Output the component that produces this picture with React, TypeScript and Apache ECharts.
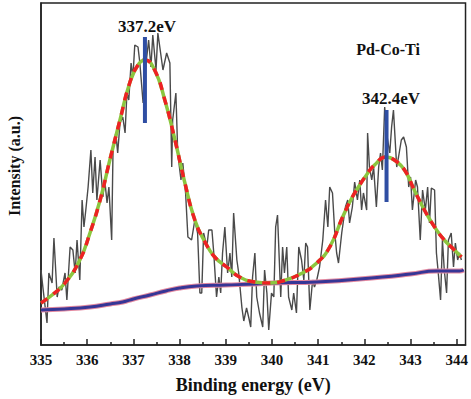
import React, { useEffect, useRef } from "react";
import * as echarts from "echarts";

// Raw XPS spectrum (binding energy eV, intensity a.u.)
const rawEnergy = [
  335.0, 335.04, 335.13, 335.17, 335.24, 335.28, 335.35, 335.39, 335.45, 335.52, 335.56, 335.63, 335.69, 335.74, 335.78, 335.84,
  335.89, 335.93, 335.97, 336.02, 336.08, 336.12, 336.17, 336.21, 336.28, 336.34, 336.38, 336.43, 336.47, 336.53, 336.56, 336.62,
  336.66, 336.71, 336.77, 336.82, 336.86, 336.9, 336.95, 336.99, 337.03, 337.1, 337.14, 337.21, 337.27, 337.33, 337.38, 337.42,
  337.49, 337.53, 337.64, 337.72, 337.79, 337.83, 337.85, 337.92, 337.96, 338.03, 338.07, 338.13, 338.18, 338.26, 338.33, 338.39,
  338.44, 338.48, 338.52, 338.59, 338.63, 338.7, 338.74, 338.8, 338.85, 338.89, 338.93, 338.98, 339.04, 339.09, 339.13, 339.17,
  339.24, 339.28, 339.35, 339.39, 339.45, 339.5, 339.54, 339.58, 339.63, 339.67, 339.73, 339.8, 339.84, 339.89, 339.93, 339.99,
  340.04, 340.08, 340.12, 340.19, 340.23, 340.27, 340.32, 340.36, 340.43, 340.47, 340.53, 340.58, 340.64, 340.69, 340.73, 340.77,
  340.82, 340.88, 340.92, 340.97, 341.03, 341.1, 341.16, 341.21, 341.25, 341.31, 341.36, 341.4, 341.44, 341.51, 341.55, 341.59,
  341.64, 341.68, 341.74, 341.79, 341.85, 341.9, 341.94, 341.98, 342.05, 342.07, 342.11, 342.16, 342.2, 342.26, 342.31, 342.35,
  342.39, 342.44, 342.48, 342.55, 342.59, 342.63, 342.7, 342.74, 342.8, 342.85, 342.91, 342.96, 343.0, 343.04, 343.11, 343.15,
  343.21, 343.26, 343.32, 343.37, 343.41, 343.45, 343.52, 343.56, 343.6, 343.65, 343.69, 343.73, 343.78, 343.82, 343.88, 343.93,
  343.97, 344.02, 344.06, 344.1,
];
const rawIntensity = [
  75, 58, 22, 72, 62, 107, 48, 58, 55, 72, 45, 98, 95, 72, 105, 65,
  145, 118, 135, 158, 195, 152, 188, 145, 185, 148, 165, 142, 158, 105, 198, 212,
  192, 222, 228, 212, 252, 245, 282, 268, 300, 298, 282, 242, 280, 305, 278, 310,
  275, 312, 275, 292, 282, 178, 225, 252, 192, 165, 182, 152, 108, 105, 125, 112,
  52, 52, 112, 98, 115, 115, 92, 48, 68, 52, 92, 118, 72, 92, 68, 132,
  85, 72, 37, 24, 37, 27, 18, 68, 92, 48, 32, 18, 75, 52, 15, 52,
  48, 118, 130, 48, 98, 72, 98, 48, 35, 52, 32, 98, 85, 65, 102, 98,
  35, 65, 58, 65, 78, 105, 145, 118, 158, 152, 112, 92, 82, 112, 125, 138,
  145, 122, 138, 163, 145, 165, 135, 152, 135, 212, 178, 165, 178, 138, 178, 192,
  175, 238, 212, 192, 218, 235, 178, 188, 205, 208, 198, 158, 168, 135, 165, 158,
  105, 155, 135, 158, 122, 157, 155, 92, 72, 45, 105, 75, 52, 105, 112, 78,
  102, 85, 92, 85,
];

// Fitted envelope
const fitEnergy = [
  335.0, 335.24, 335.52, 335.84, 336.06, 336.28, 336.49, 336.71, 336.92, 337.1, 337.25, 337.46, 337.68, 337.9, 338.11, 338.33,
  338.55, 338.76, 339.02, 339.3, 339.63, 339.95, 340.23, 340.66, 340.97, 341.25, 341.53, 341.74, 341.9, 342.0, 342.22, 342.48,
  342.65, 342.87, 343.08, 343.3, 343.52, 343.73, 343.95, 344.1,
];
const fitIntensity = [
  42, 50, 62, 85, 112, 145, 185, 225, 262, 280, 285, 275, 245, 205, 163, 125,
  103, 88, 78, 68, 63, 62, 64, 72, 82, 98, 128, 148, 160, 167, 180, 188,
  185, 175, 155, 135, 118, 105, 95, 88,
];

// Background line
const baseEnergy = [335.0, 335.5, 336.06, 336.5, 336.77, 337.0, 337.36, 337.7, 338.0, 338.37, 339.0, 339.63, 340.0, 340.97, 342.39, 343.0, 343.56, 344.06, 344.15];
const baseIntensity = [35, 36, 38, 41, 43, 46, 50, 54, 57, 59, 60, 61, 62, 63, 68, 71, 74, 74, 75];

// Peak markers
const peakEnergy = [337.25, 342.48];
const markerTop = [308, 235];
const markerBottom = [222, 143];
const peakLabels = ["337.2eV", "342.4eV"];

const xTicks = [335, 336, 337, 338, 339, 340, 341, 342, 343, 344];
const xHalfTicks = [335.5, 336.5, 337.5, 338.5, 339.5, 340.5, 341.5, 342.5, 343.5];

const FONT = "'Liberation Serif', 'Times New Roman', Tinos, 'DejaVu Serif', serif";

export default function App() {
  const ref = useRef<HTMLDivElement>(null);
  useEffect(() => {
    if (!ref.current) return;
    const chart = echarts.init(ref.current, null, { renderer: "svg" });
    const pairs = (xs: number[], ys: number[]) => xs.map((x, i) => [x, ys[i]]);
    const markerSeries = peakEnergy.map((e, i) => ({
      type: "line",
      data: [[e, markerBottom[i]], [e, markerTop[i]]],
      showSymbol: false,
      lineStyle: { color: "#2f4ea3", width: 4 },
      z: 10,
      silent: true,
    }));
    const txt = (text: string, x: number, y: number, size: number, rotation = 0) => ({
      type: "text",
      x,
      y,
      rotation,
      style: {
        text,
        fill: "#111",
        fontFamily: FONT,
        fontWeight: "bold",
        fontSize: size,
        align: "center",
        verticalAlign: "middle",
        textAlign: "center",
        textVerticalAlign: "middle",
      },
      z: 20,
    });
    chart.setOption({
      animation: false,
      textStyle: { fontFamily: FONT },
      grid: { left: 41, right: 5, top: 3, bottom: 54, show: true, borderColor: "#222", borderWidth: 1.5, backgroundColor: "transparent" },
      xAxis: [
        {
          type: "value",
          min: 335,
          max: 344.19,
          axisLine: { show: true, lineStyle: { color: "#222", width: 1.5 } },
          axisTick: { show: true, inside: true, length: 6, customValues: xTicks, lineStyle: { color: "#222", width: 1.5 } },
          axisLabel: {
            customValues: xTicks,
            formatter: (v: number) => String(Math.round(v)),
            color: "#111",
            fontFamily: FONT,
            fontWeight: "bold",
            fontSize: 15,
            margin: 7,
          },
          splitLine: { show: false },
          name: "Binding energy (eV)",
          nameLocation: "middle",
          nameGap: 31,
          nameTextStyle: { color: "#111", fontFamily: FONT, fontWeight: "bold", fontSize: 18 },
        },
        {
          type: "value",
          position: "bottom",
          min: 335,
          max: 344.19,
          axisLine: { show: false },
          axisTick: { show: true, inside: true, length: 3, customValues: xHalfTicks, lineStyle: { color: "#222", width: 1.5 } },
          axisLabel: { show: false },
          splitLine: { show: false },
        },
      ],
      yAxis: {
        type: "value",
        min: 0,
        max: 342,
        axisLine: { show: true, lineStyle: { color: "#222", width: 1.5 } },
        axisTick: { show: false },
        axisLabel: { show: false },
        splitLine: { show: false },
      },
      series: [
        {
          type: "line",
          data: pairs(rawEnergy, rawIntensity),
          showSymbol: false,
          lineStyle: { color: "#4a4a4a", width: 1.4 },
          z: 2,
          silent: true,
        },
        {
          type: "line",
          data: pairs(baseEnergy, baseIntensity),
          smooth: true,
          showSymbol: false,
          lineStyle: { color: "#e48aa0", width: 5 },
          z: 3,
          silent: true,
        },
        {
          type: "line",
          data: pairs(baseEnergy, baseIntensity),
          smooth: true,
          showSymbol: false,
          lineStyle: { color: "#363696", width: 3 },
          z: 4,
          silent: true,
        },
        {
          type: "line",
          data: pairs(fitEnergy, fitIntensity),
          smooth: true,
          showSymbol: false,
          lineStyle: { color: "#8cc63f", width: 3.5 },
          z: 5,
          silent: true,
        },
        {
          type: "line",
          data: pairs(fitEnergy, fitIntensity),
          smooth: true,
          showSymbol: false,
          lineStyle: { color: "#ee2124", width: 3.5, type: [8, 7] },
          z: 6,
          silent: true,
        },
        ...markerSeries,
      ],
      graphic: [
        txt(peakLabels[0], 147, 26, 17),
        txt(peakLabels[1], 391, 98, 17),
        txt("Pd-Co-Ti", 388, 49, 16),
        txt("Intensity (a.u.)", 14, 166, 16, Math.PI / 2),
      ],
    });
    return () => chart.dispose();
  }, []);
  return <div ref={ref} style={{ position: "absolute", left: 0, top: 0, width: 471, height: 399 }} />;
}
